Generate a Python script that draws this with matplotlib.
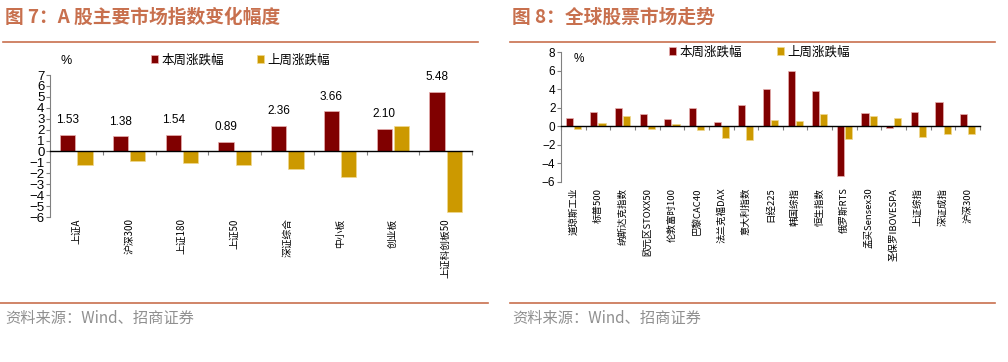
import numpy as np
import matplotlib.pyplot as plt
from matplotlib import transforms

plt.rcParams['font.family'] = ['Noto Sans CJK SC', 'DejaVu Sans']

# 图7 数据
a_names = ['上证A', '沪深300', '上证180', '上证50', '深证综合', '中小板', '创业板', '上证科创板50']
a_this_week = [1.53, 1.38, 1.54, 0.89, 2.36, 3.66, 2.10, 5.48]
a_last_week = [-1.25, -0.85, -1.07, -1.22, -1.62, -2.38, 2.30, -5.53]

# 图8 数据
g_names = ['道琼斯工业', '标普500', '纳斯达克指数', '欧元区STOXX50', '伦敦富时100', '巴黎CAC40',
           '法兰克福DAX', '意大利指数', '日经225', '韩国综指', '恒生指数', '俄罗斯RTS',
           '孟买Sensex30', '圣保罗IBOVESPA', '上证综指', '深证成指', '沪深300']
g_this_week = [0.94, 1.59, 2.02, 1.30, 0.79, 1.95, 0.43, 2.27, 4.04, 5.95, 3.82, -5.41,
               1.48, -0.22, 1.51, 2.67, 1.37]
g_last_week = [-0.29, 0.32, 1.12, -0.32, 0.25, -0.36, -1.26, -1.44, 0.69, 0.61, 1.37, -1.41,
               1.15, 0.87, -1.16, -0.79, -0.79]

RED = '#800000'
GOLD = '#CC9900'
ORANGE = '#C8704E'
NUM_FONT = ['Liberation Sans Narrow', 'Liberation Sans']

W, H = 1008, 362
fig = plt.figure(figsize=(W / 100, H / 100), dpi=100)


def px(x, y):
    return x / W, 1 - y / H


def draw_panel(ax, names, this_w, last_w, ylim, ystep, ytick_size, label_gap, label_size, labels_on):
    x = np.arange(len(names))
    b1 = ax.bar(x - 0.165, this_w, 0.29, color=RED, edgecolor='#e8b0b0', linewidth=0.5, label='本周涨跌幅')
    b2 = ax.bar(x + 0.165, last_w, 0.29, color=GOLD, edgecolor='#f0d890', linewidth=0.5, label='上周涨跌幅')
    ax.set_xlim(-0.5, len(names) - 0.5)
    ax.set_ylim(*ylim)
    ax.set_yticks(np.arange(ylim[0], ylim[1] + 0.1, ystep))
    for s in ['top', 'right']:
        ax.spines[s].set_visible(False)
    ax.spines['left'].set_color('#808080')
    ax.spines['bottom'].set_position(('data', 0))
    ax.spines['bottom'].set_color('black')
    ax.spines['bottom'].set_linewidth(1.0)
    ax.set_xticks(np.arange(len(names) + 1) - 0.5)
    ax.tick_params(axis='x', length=3, color='#808080', labelbottom=False)
    ax.tick_params(axis='y', length=3, color='#808080', pad=1)
    for lab in ax.get_yticklabels():
        lab.set_family(NUM_FONT)
        lab.set_fontsize(ytick_size)
    trans = transforms.blended_transform_factory(ax.transData, ax.transAxes)
    for i, n in enumerate(names):
        ax.text(i, -label_gap, n, transform=trans, rotation=90, ha='center', va='top',
                fontsize=label_size)
    if labels_on:
        for rect, v in zip(b1, this_w):
            ax.annotate(f'{v:.2f}', (rect.get_x() + rect.get_width() / 2, v), xytext=(0, 6),
                        textcoords='offset points', ha='center', va='bottom', fontsize=8.5,
                        family=NUM_FONT)
    return b1, b2


# 左图
ax1 = fig.add_axes([50 / W, 1 - 217 / H, 422 / W, 142 / H])
h1 = draw_panel(ax1, a_names, a_this_week, a_last_week, (-6, 7), 1, 9.5, 0.01, 7, True)
ax1.text(0.025, 1.1, '%', transform=ax1.transAxes, fontsize=9, family=NUM_FONT, va='center')
fig.legend(h1, ['本周涨跌幅', '上周涨跌幅'], loc='center left', bbox_to_anchor=px(151, 60),
           ncol=2, frameon=False, fontsize=9, handlelength=0.55, handleheight=0.55,
           handletextpad=0.3, columnspacing=2.6, borderpad=0, borderaxespad=0)

# 右图
ax2 = fig.add_axes([561 / W, 1 - 181.7 / H, 419 / W, 129.4 / H])
h2 = draw_panel(ax2, g_names, g_this_week, g_last_week, (-6, 8), 2, 8.5, 0.045, 6.8, False)
ax2.text(0.03, 0.95, '%', transform=ax2.transAxes, fontsize=8.5, family=NUM_FONT, va='center')
fig.legend(h2, ['本周涨跌幅', '上周涨跌幅'], loc='center left', bbox_to_anchor=px(669, 52),
           ncol=2, frameon=False, fontsize=9, handlelength=0.55, handleheight=0.55,
           handletextpad=0.3, columnspacing=2.8, borderpad=0, borderaxespad=0)

# 标题、分隔线与来源
fig.text(*px(5, 17), '图 7：A 股主要市场指数变化幅度', color=ORANGE, fontsize=13.5,
         fontweight='bold', va='center', ha='left')
fig.text(*px(512, 17), '图 8：全球股票市场走势', color=ORANGE, fontsize=13.5,
         fontweight='bold', va='center', ha='left')
for x0, x1 in [(3, 478), (510, 995)]:
    fig.add_artist(plt.Line2D([x0 / W, x1 / W], [1 - 42 / H] * 2, color=ORANGE, lw=1.2))
for x0, x1 in [(0, 488), (510, 995)]:
    fig.add_artist(plt.Line2D([x0 / W, x1 / W], [1 - 303 / H] * 2, color=ORANGE, lw=1.2))
fig.text(*px(5, 318), '资料来源：Wind、招商证券', color='#909090', fontsize=11, va='center')
fig.text(*px(512, 318), '资料来源：Wind、招商证券', color='#909090', fontsize=11, va='center')

fig.savefig('out.png', dpi=100)
